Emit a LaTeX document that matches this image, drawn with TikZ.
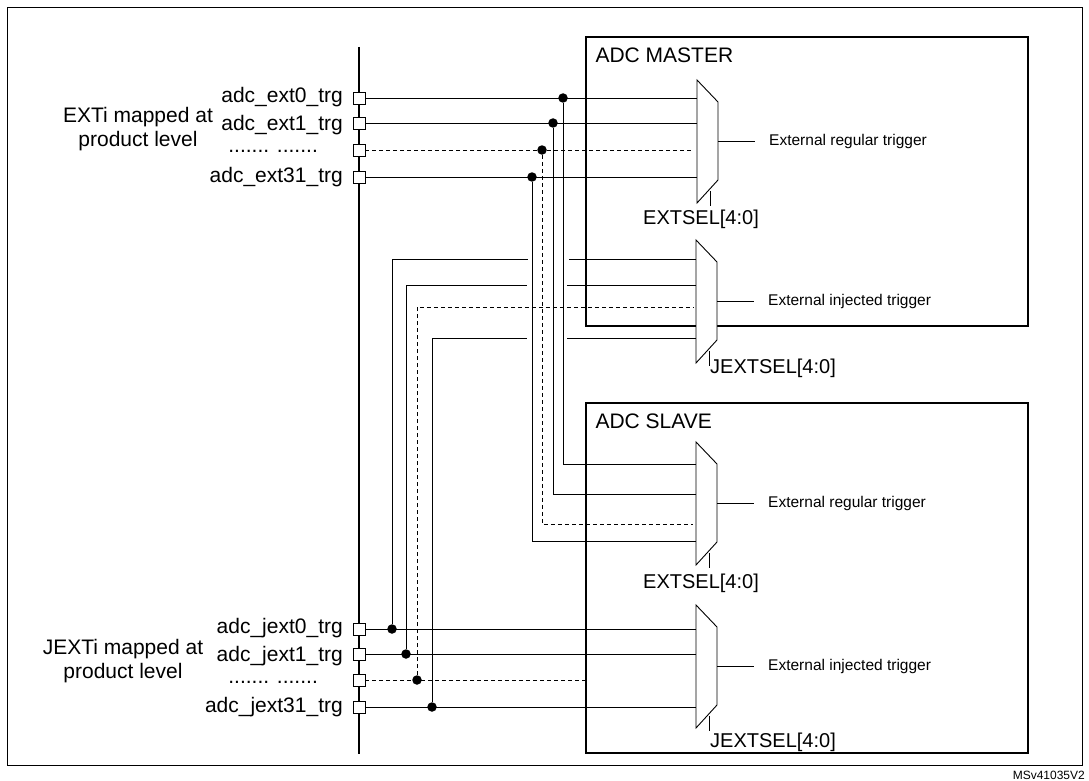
\documentclass[tikz,border=0pt]{standalone}
\usepackage{fontspec}
\setmainfont{Liberation Sans}
\begin{document}
\begin{tikzpicture}[x=1pt,y=-1pt,
  sq/.style={draw,fill=white,minimum size=12pt,inner sep=0,line width=0.9pt},
  dot/.style={circle,fill=black,minimum size=9.5pt,inner sep=0},
  wire/.style={line width=0.9pt},
  dwire/.style={line width=0.9pt,dash pattern=on 4pt off 3pt},
  box/.style={line width=1.8pt},
  lbl/.style={anchor=east,font=\fontsize{21}{24}\selectfont,inner sep=0pt},
  dots/.style={anchor=base east,font=\fontsize{21}{24}\selectfont,inner sep=0pt},
  big/.style={font=\fontsize{21}{24}\selectfont},
  sm/.style={anchor=west,font=\fontsize{15.5}{17}\selectfont,inner sep=0pt},
  sel/.style={anchor=north west,font=\fontsize{20}{22}\selectfont,inner sep=1pt}]
\useasboundingbox (0,0) rectangle (1089,781);
\draw[line width=0.9pt] (7,7) rectangle (1082,765);
\node[anchor=south east,font=\fontsize{12}{13}\selectfont,inner sep=1pt] (tag) at (1086,781) {MSv41035V2};
% bus
\coordinate (bt) at (359,47); \coordinate (bb) at (359,754);
\draw[line width=1.8pt] (bt) -- (bb);
% boxes
\draw[box] (586,37) rectangle (1028,326);
\draw[box] (586,403) rectangle (1028,753);
\node[anchor=west,big] (mt) at (592,55) {ADC MASTER};
\node[anchor=west,big] (st) at (592,421) {ADC SLAVE};
% muxes
\newcommand{\mux}[3]{% name, x, ytop
  \draw[wire,fill=white] (#2,#3) -- (#2+21,#3+22) -- (#2+21,#3+100) -- (#2,#3+123) -- cycle;
  \coordinate (#1o) at (#2+21,#3+61);
  \coordinate (#1e) at (#2+58,#3+61);
  \draw[wire] (#1o) -- (#1e);
  \draw[wire] (#2+13,#3+111) -- (#2+13,#3+126);
}
\mux{mr}{697}{80}
\mux{mi}{696}{240}
\mux{sr}{696}{442}
\mux{si}{696}{605}
\node[sm] (mrl) at ([xshift=14pt]mre) {External regular trigger};
\node[sm] (mil) at ([xshift=14pt]mie) {External injected trigger};
\node[sm] (srl) at ([xshift=14pt]sre) {External regular trigger};
\node[sm] (sil) at ([xshift=14pt]sie) {External injected trigger};
\node[sel] (mrs) at (642,209) {EXTSEL[4:0]};
\node[sel] (mis) at (709,358) {JEXTSEL[4:0]};
\node[sel] (srs) at (642,573) {EXTSEL[4:0]};
\node[sel] (sis) at (709,732) {JEXTSEL[4:0]};
% squares
\foreach \n/\y in {a/98,b/123,c/150,d/177}{\node[sq] (\n) at (359,\y) {};}
\foreach \n/\y in {e/629,f/654,g/680,h/707}{\node[sq] (\n) at (359,\y) {};}
\node[lbl] (la) at (343,97) {adc\_ext0\_trg};
\node[lbl] (lb) at (343,125) {adc\_ext1\_trg};
\node[dots] (lc) at (318,152) {....... .......};
\node[lbl] (ld) at (343,177) {adc\_ext31\_trg};
\node[align=center,big] (ex) at (138,129) {EXTi mapped at\\product level};
\node[lbl] (le) at (343,628) {adc\_jext0\_trg};
\node[lbl] (lf) at (343,656) {adc\_jext1\_trg};
\node[dots] (lg) at (318,683) {....... .......};
\node[lbl] (lh) at (343,707) {adc\_jext31\_trg};
\node[align=center,big] (jx) at (123,661) {JEXTi mapped at\\product level};
% top dots
\node[dot] (da) at (563,98) {};
\node[dot] (db) at (553,123) {};
\node[dot] (dc) at (542,150) {};
\node[dot] (dd) at (532,177) {};
\draw[wire] (a) -- (697,98);
\draw[wire] (b) -- (697,123);
\draw[dwire] (c) -- (693,150);
\draw[wire] (d) -- (697,177);
\draw[wire] (da) -- (563,464) -- (696,464);
\draw[wire] (db) -- (553,494) -- (696,494);
\draw[dwire] (dc) -- (542,524) -- (693,524);
\draw[wire] (dd) -- (532,541) -- (696,541);
% bottom dots
\node[dot] (de) at (392,629) {};
\node[dot] (df) at (406,654) {};
\node[dot] (dg) at (417,680) {};
\node[dot] (dh) at (432,707) {};
\draw[wire] (e) -- (696,629);
\draw[wire] (f) -- (696,654);
\draw[dwire] (g) -- (586,680);
\draw[wire] (h) -- (696,707);
\draw[wire] (de) -- (392,259) -- (528,259);
\draw[wire] (569,259) -- (696,259);
\draw[wire] (df) -- (406,285) -- (527,285);
\draw[wire] (567,285) -- (696,285);
\draw[dwire] (dg) -- (417,307) -- (693,307);
\draw[wire] (dh) -- (432,338) -- (527,338);
\draw[wire] (567,338) -- (696,338);
\end{tikzpicture}
\end{document}
